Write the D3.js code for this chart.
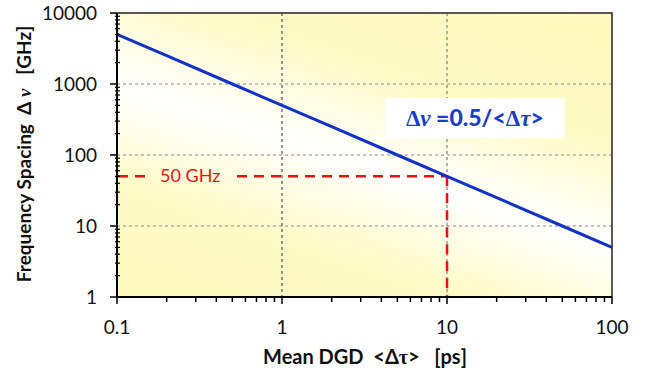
<!DOCTYPE html>
<html><head><meta charset="utf-8">
<script src="https://cdn.jsdelivr.net/npm/d3@7"></script>
<style>body{margin:0;background:#fff}svg{display:block}text{white-space:pre}</style>
</head><body>
<svg id="c" width="651" height="376"></svg>
<script>
const xTicks = [0.1, 1, 10, 100];
const yTicks = [1, 10, 100, 1000, 10000];
const dgd = [0.1, 0.2, 0.5, 1, 2, 5, 10, 20, 50, 100];
const spacing = [5000, 2500, 1000, 500, 250, 100, 50, 25, 10, 5];
const markerDGD = 10, markerFreq = 50;
const markerLabel = "50 GHz";

const svg = d3.select("#c");
const m = {l:117, r:612, t:13, b:297};
const x = d3.scaleLog().domain([0.1,100]).range([m.l,m.r]);
const y = d3.scaleLog().domain([1,10000]).range([m.b,m.t]);
const W = m.r-m.l, H = m.b-m.t;

// gradient
const defs = svg.append("defs");
const cx = (m.l+m.r)/2, cy = (m.t+m.b)/2;
const ux = 0.308, uy = -0.951, ext = 215;
const g = defs.append("linearGradient").attr("id","bg").attr("gradientUnits","userSpaceOnUse")
  .attr("x1", cx-ux*ext).attr("y1", cy-uy*ext+10).attr("x2", cx+ux*ext).attr("y2", cy+uy*ext+10);
g.append("stop").attr("offset","0").attr("stop-color","#fff9bc");
g.append("stop").attr("offset","0.28").attr("stop-color","#fffbc6");
g.append("stop").attr("offset","0.5").attr("stop-color","#ffffff");
g.append("stop").attr("offset","0.72").attr("stop-color","#fffbc6");
g.append("stop").attr("offset","1").attr("stop-color","#fff9bc");

svg.append("rect").attr("x",m.l).attr("y",m.t).attr("width",W).attr("height",H).attr("fill","url(#bg)");

// grid
svg.append("g").selectAll("line").data(yTicks.slice(1,-1)).join("line")
  .attr("x1",m.l).attr("x2",m.r).attr("y1",d=>y(d)).attr("y2",d=>y(d))
  .attr("stroke","#8a8a8a").attr("stroke-width",1).attr("stroke-dasharray","3,3");
svg.append("g").selectAll("line").data(xTicks.slice(1,-1)).join("line")
  .attr("y1",m.t).attr("y2",m.b).attr("x1",d=>x(d)).attr("x2",d=>x(d))
  .attr("stroke",(d,i)=>i==0?"#333":"#666").attr("stroke-width",1).attr("stroke-dasharray","3,3");

// red marker lines
const red = "#ee1111";
svg.append("line").attr("x1",x(0.1)).attr("x2",x(markerDGD)).attr("y1",y(markerFreq)).attr("y2",y(markerFreq))
  .attr("stroke",red).attr("stroke-width",2.5).attr("stroke-dasharray","10,7").attr("stroke-dashoffset",-1);
svg.append("line").attr("x1",x(markerDGD)).attr("x2",x(markerDGD)).attr("y1",y(markerFreq)).attr("y2",y(1))
  .attr("stroke",red).attr("stroke-width",2.5).attr("stroke-dasharray","10,7");
// label with background
const lx = x(0.1)+43, ly = y(markerFreq);
svg.append("rect").attr("x",lx-9).attr("y",ly-10).attr("width",86).attr("height",20).attr("fill","url(#bg)");
svg.append("text").attr("x",lx).attr("y",ly+6).attr("fill",red)
  .attr("font-family","Lato, 'Open Sans', sans-serif").attr("font-size",18).text(markerLabel);

// main line
svg.append("path").datum(dgd.map((d,i)=>[d,spacing[i]]))
  .attr("d", d3.line().x(d=>x(d[0])).y(d=>y(d[1])))
  .attr("fill","none").attr("stroke","#1133cc").attr("stroke-width",3);

// formula box
const bx = x(4.2), by = y(633);
svg.append("rect").attr("x",bx).attr("y",by).attr("width",180).attr("height",40).attr("fill","#fff");
const ft = svg.append("text").attr("x",bx+90).attr("y",by+28).attr("text-anchor","middle")
  .attr("fill","#1a3fcc").attr("font-family","Lato, 'Open Sans', sans-serif").attr("font-weight","900").attr("font-size",23);
ft.append("tspan").attr("font-family","'Liberation Serif', serif").text("Δ");
ft.append("tspan").attr("font-style","italic").attr("font-family","'Liberation Serif', serif").text("ν");
ft.append("tspan").text(" =0.5/<");
ft.append("tspan").attr("font-family","'Liberation Serif', serif").text("Δ");
ft.append("tspan").attr("font-style","italic").attr("font-family","'Liberation Serif', serif").text("τ");
ft.append("tspan").text(">");

// frame
svg.append("rect").attr("x",m.l).attr("y",m.t).attr("width",W).attr("height",H)
  .attr("fill","none").attr("stroke","#222").attr("stroke-width",1.5);
svg.append("line").attr("x1",m.l).attr("x2",m.l).attr("y1",m.t).attr("y2",m.b).attr("stroke","#000").attr("stroke-width",2);
svg.append("line").attr("x1",m.l).attr("x2",m.r).attr("y1",m.b).attr("y2",m.b).attr("stroke","#000").attr("stroke-width",2);

// minor ticks
const minors = (lo,hi)=>{const a=[];for(let e=lo;e<hi;e++)for(let k=2;k<=9;k++)a.push(k*Math.pow(10,e));return a;};
svg.append("g").selectAll("line").data(minors(-1,2)).join("line")
  .attr("x1",d=>x(d)).attr("x2",d=>x(d)).attr("y1",m.b).attr("y2",m.b+5).attr("stroke","#000").attr("stroke-width",1.5);
svg.append("g").selectAll("line").data(xTicks).join("line")
  .attr("x1",d=>x(d)).attr("x2",d=>x(d)).attr("y1",m.b).attr("y2",m.b+7).attr("stroke","#000").attr("stroke-width",1.5);
svg.append("g").selectAll("line").data(minors(0,4)).join("line")
  .attr("y1",d=>y(d)).attr("y2",d=>y(d)).attr("x1",m.l-2).attr("x2",m.l+3).attr("stroke","#000").attr("stroke-width",1.2);
svg.append("g").selectAll("line").data(yTicks).join("line")
  .attr("y1",d=>y(d)).attr("y2",d=>y(d)).attr("x1",m.l-7).attr("x2",m.l).attr("stroke","#000").attr("stroke-width",1.5);

// tick labels
const tf = "Lato, 'Open Sans', sans-serif";
svg.append("g").selectAll("text").data(xTicks).join("text")
  .attr("x",d=>x(d)).attr("y",m.b+37).attr("text-anchor","middle").attr("font-family",tf).attr("font-size",19).attr("fill","#111")
  .text(d=>d3.format("~g")(d));
svg.append("g").selectAll("text").data(yTicks).join("text")
  .attr("x",m.l-20).attr("y",d=>y(d)+7).attr("text-anchor","end").attr("font-family",tf).attr("font-size",19).attr("fill","#111")
  .text(d=>d);

// axis titles
const xt = svg.append("text").attr("x",365).attr("y",364).attr("text-anchor","middle")
  .attr("font-family",tf).attr("font-weight","bold").attr("font-size",20).attr("fill","#111");
xt.append("tspan").text("Mean DGD  <Δ");
xt.append("tspan").attr("font-family","'Liberation Serif', serif").text("τ");
xt.append("tspan").text(">   [ps]");

const yt = svg.append("text").attr("transform","translate(31,154) rotate(-90)").attr("text-anchor","middle")
  .attr("font-family",tf).attr("font-weight","bold").attr("font-size",19).attr("fill","#111");
yt.append("tspan").text("Frequency Spacing  Δ ");
yt.append("tspan").attr("font-style","italic").attr("font-family","'Liberation Serif', serif").text("ν");
yt.append("tspan").text("   [GHz]");
</script>
</body></html>
